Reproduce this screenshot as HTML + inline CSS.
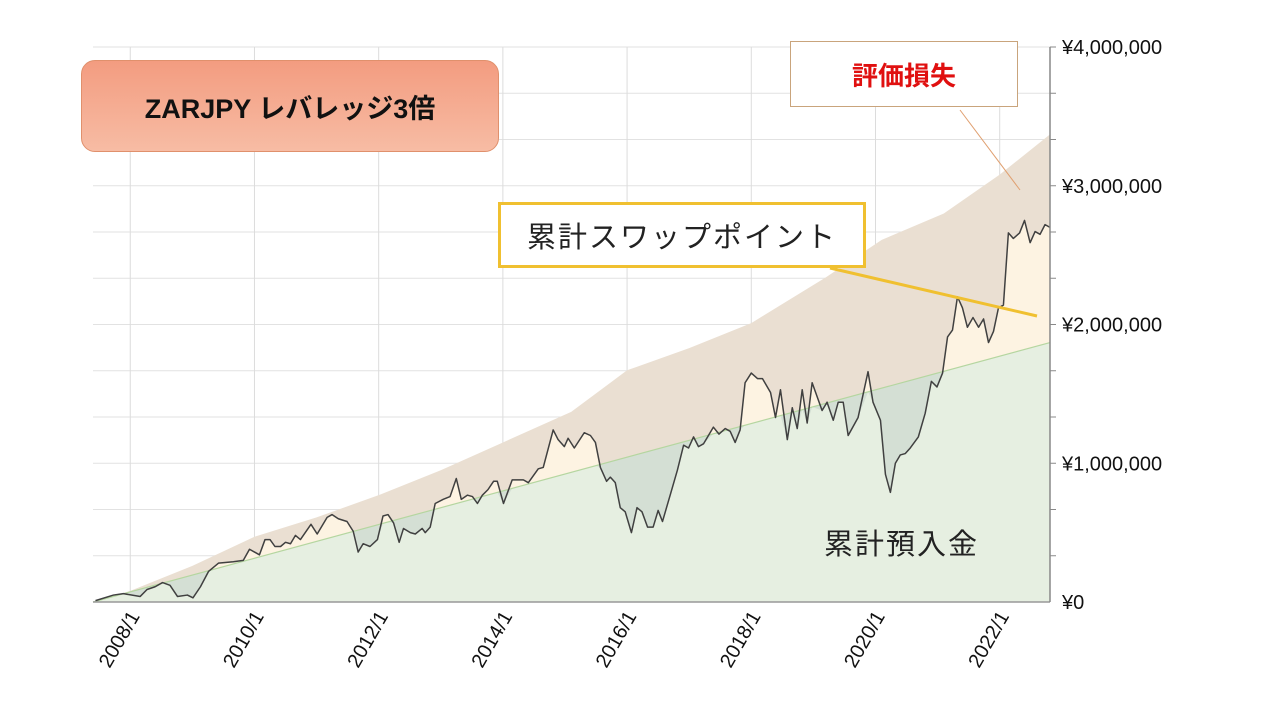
<!DOCTYPE html>
<html><head><meta charset="utf-8"><style>
body{margin:0;background:#fff;width:1280px;height:720px;overflow:hidden;font-family:"Liberation Sans","Noto Sans CJK JP",sans-serif}
svg{position:absolute;left:0;top:0}
.box{position:absolute;box-sizing:border-box;display:flex;align-items:center;justify-content:center}
</style></head><body>
<svg id="chart" width="1280" height="720"></svg>
<div class="box" style="left:81px;top:60px;width:418px;height:92px;border:1px solid #e0906c;border-radius:14px;background:linear-gradient(#f39c80,#f7bca4);font-weight:bold;font-size:27px;color:#111">ZARJPY レバレッジ3倍</div>
<div class="box" style="left:790px;top:41px;width:228px;height:66px;border:1px solid #c9a47c;background:#fff;font-weight:bold;font-size:26px;color:#e01010">評価損失</div>
<div class="box" style="left:498px;top:202px;width:368px;height:66px;border:3px solid #f0c030;background:#fff;font-size:29px;color:#222;letter-spacing:2px">累計スワップポイント</div>
<div style="position:absolute;left:824px;top:521px;font-size:29px;color:#222;letter-spacing:2px">累計預入金</div>
<script>
const valDates=[2007.44,2007.73,2007.89,2008.16,2008.27,2008.40,2008.52,2008.64,2008.76,2008.92,2009.01,2009.13,2009.26,2009.42,2009.66,2009.82,2009.92,2010.08,2010.17,2010.25,2010.33,2010.42,2010.50,2010.58,2010.66,2010.74,2010.91,2011.01,2011.17,2011.25,2011.35,2011.49,2011.59,2011.67,2011.75,2011.86,2011.98,2012.07,2012.15,2012.24,2012.33,2012.40,2012.51,2012.59,2012.70,2012.75,2012.83,2012.91,2013.04,2013.15,2013.25,2013.33,2013.43,2013.51,2013.59,2013.67,2013.76,2013.85,2013.91,2014.01,2014.15,2014.33,2014.41,2014.57,2014.65,2014.81,2014.89,2014.99,2015.05,2015.15,2015.31,2015.41,2015.49,2015.57,2015.67,2015.73,2015.81,2015.89,2015.97,2016.07,2016.16,2016.24,2016.33,2016.42,2016.50,2016.57,2016.70,2016.81,2016.91,2016.99,2017.07,2017.15,2017.23,2017.39,2017.48,2017.58,2017.66,2017.74,2017.82,2017.90,2018.00,2018.10,2018.18,2018.31,2018.39,2018.47,2018.58,2018.66,2018.74,2018.82,2018.90,2018.98,2019.14,2019.22,2019.32,2019.40,2019.48,2019.56,2019.72,2019.88,2019.96,2020.08,2020.16,2020.24,2020.32,2020.40,2020.48,2020.56,2020.69,2020.80,2020.90,2020.99,2021.08,2021.16,2021.24,2021.32,2021.40,2021.48,2021.57,2021.66,2021.74,2021.82,2021.90,2021.98,2022.06,2022.14,2022.22,2022.32,2022.40,2022.49,2022.57,2022.65,2022.73,2022.81];
const valValues=[1,5,6,4,9,11,14,12,4,5,3,11,22,28,29,30,38,34,45,45,40,40,43,42,48,45,56,49,61,63,60,58,51,36,42,40,45,62,63,57,43,53,50,49,53,50,54,71,74,76,89,74,77,76,71,77,81,87,87,71,88,88,86,96,97,124,117,112,118,111,122,120,115,97,87,90,86,68,65,50,68,65,54,54,66,58,78,95,113,111,119,112,114,126,121,125,123,115,124,158,165,161,161,151,133,153,117,140,125,153,129,158,138,144,131,144,144,120,133,166,144,131,92,79,100,106,107,111,119,136,159,155,165,191,196,220,212,198,205,198,204,187,195,212,214,266,262,266,275,259,267,265,272,270];
const swapDates=[2007.40,2008.0,2009.0,2010.0,2011.0,2012.0,2013.0,2014.0,2015.1,2016.0,2017.0,2018.0,2019.2,2020.1,2021.1,2022.0,2022.81];
const swapValues=[0,8,26,47,61,77,95,115,137,167,183,201,234,261,280,308,337];
const depDates=[2007.40,2022.81];
const depValues=[0,187];
const yTicks=[0,100,200,300,400];
const yTickLabels=['¥0','¥1,000,000','¥2,000,000','¥3,000,000','¥4,000,000'];
const xTicks=[2008,2010,2012,2014,2016,2018,2020,2022];
const xTickLabels=['2008/1','2010/1','2012/1','2014/1','2016/1','2018/1','2020/1','2022/1'];

const X0=93,X1=1050,Y0=602,Y1=47,XMIN=2007.40,XMAX=2022.81,YMAX=400;
const sx=t=>X0+(t-XMIN)/(XMAX-XMIN)*(X1-X0);
const sy=v=>Y0-v/YMAX*(Y0-Y1);
const svg=document.getElementById('chart');
const NS='http://www.w3.org/2000/svg';
function mk(tag,attrs){const e=document.createElementNS(NS,tag);for(const k in attrs)e.setAttribute(k,attrs[k]);svg.appendChild(e);return e;}
function dep(t){return depValues[0]+(t-depDates[0])/(depDates[1]-depDates[0])*(depValues[1]-depValues[0]);}
function area(ds,vs){let p='M'+sx(ds[0])+','+Y0;ds.forEach((d,i)=>p+=' L'+sx(d)+','+sy(vs[i]));p+=' L'+sx(ds[ds.length-1])+','+Y0+' Z';return p;}
function line(ds,vs){return ds.map((d,i)=>(i?'L':'M')+sx(d)+','+sy(vs[i])).join(' ');}

// grid
for(let k=1;k<=12;k++){const y=sy(k*100/3);
 const g=mk('line',{x1:X0,x2:X1,y1:y,y2:y,stroke:'#e2e2e2','stroke-width':1});
 
 const tk=mk('line',{x1:X1,x2:X1+6,y1:y,y2:y,stroke:'#888','stroke-width':1});
 }
xTicks.forEach(t=>{const g=mk('line',{x1:sx(t),x2:sx(t),y1:Y1,y2:Y0,stroke:'#dcdcdc','stroke-width':1});
 });

// areas
const dv=valDates.map(d=>dep(d));
const a1=mk('path',{d:area(swapDates,swapValues),fill:'#eadfd2'});

const a2=mk('path',{d:area(valDates,valValues),fill:'#fdf3e2'});

const a3=mk('path',{d:area(valDates,dv),fill:'#d4dfd4'});

const a4=mk('path',{d:area(valDates,valValues.map((v,i)=>Math.min(v,dv[i]))),fill:'#e6efe1'});

const dl=mk('path',{d:line(depDates,depValues),stroke:'#b5d6a0','stroke-width':1.2,fill:'none'});

const vl=mk('path',{d:line(valDates,valValues),stroke:'#404040','stroke-width':1.5,fill:'none','stroke-linejoin':'round'});


// axes
const bx=mk('line',{x1:X0,x2:X1,y1:Y0,y2:Y0,stroke:'#999','stroke-width':1.5});

const ax=mk('line',{x1:X1,x2:X1,y1:Y1,y2:Y0,stroke:'#888','stroke-width':1.5});

yTicks.forEach((v,i)=>{const t=mk('text',{x:1062,y:sy(v)+7,'font-size':20,fill:'#111'});t.textContent=yTickLabels[i];
 });
xTicks.forEach((v,i)=>{const x=sx(v)+10,y=616;const t=mk('text',{x:x,y:y,'font-size':20,fill:'#111','text-anchor':'end',transform:'rotate(-60 '+x+' '+y+')'});t.textContent=xTickLabels[i];
 });

// callout lines
const c1=mk('line',{x1:960,y1:110,x2:1020,y2:190,stroke:'#e0a070','stroke-width':1});

const c2=mk('line',{x1:830,y1:268,x2:1037,y2:316,stroke:'#f0c030','stroke-width':3});

</script>
</body></html>
